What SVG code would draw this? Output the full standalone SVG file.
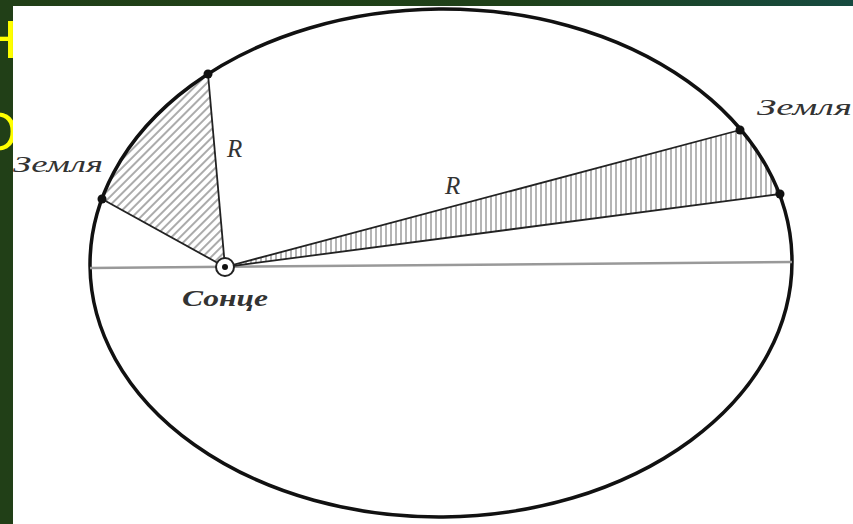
<svg xmlns="http://www.w3.org/2000/svg" width="853" height="524" viewBox="0 0 853 524">
<defs>
<linearGradient id="bg" x1="0" y1="0" x2="1" y2="0">
<stop offset="0" stop-color="#213f17"/>
<stop offset="0.6" stop-color="#1f4119"/>
<stop offset="1" stop-color="#164a40"/>
</linearGradient>
<pattern id="diag" width="6" height="6" patternUnits="userSpaceOnUse" patternTransform="rotate(45)">
<line x1="1" y1="0" x2="1" y2="6" stroke="#666" stroke-width="1.1"/>
</pattern>
<pattern id="vert" width="5" height="10" patternUnits="userSpaceOnUse">
<line x1="1" y1="0" x2="1" y2="10" stroke="#777" stroke-width="1.1"/>
</pattern>
<style>
.yel{font-family:"Liberation Sans",Arial,sans-serif;font-size:53px;fill:#ffff00}
.lbl{font-family:"Liberation Serif","DejaVu Serif",serif;font-style:italic;fill:#333}
.rad{stroke:#222;stroke-width:1.8;fill:none}
.dot{fill:#111}
</style>
</defs>
<rect x="0" y="0" width="853" height="524" fill="url(#bg)"/>
<text class="yel" x="-21" y="58">Н</text>
<text class="yel" x="-23" y="150">О</text>
<rect x="13" y="6" width="840" height="518" fill="#ffffff"/>
<g id="sectors">
<path d="M225 267 L102 199 A351 254 -0.49 0 1 208 74 Z" fill="url(#diag)"/>
<path d="M225 267 L740 130 A351 254 -0.49 0 1 780 194 Z" fill="url(#vert)"/>
</g>
<g id="orbit">
<ellipse cx="441" cy="263" rx="351" ry="254" transform="rotate(-0.49 441 263)" fill="none" stroke="#111" stroke-width="3.5"/>
</g>
<g id="connectors">
<line x1="90" y1="268" x2="792" y2="262" stroke="#999" stroke-width="2.5"/>
<line class="rad" x1="225" y1="267" x2="102" y2="199"/>
<line class="rad" x1="225" y1="267" x2="208" y2="74"/>
<line class="rad" x1="225" y1="267" x2="740" y2="130"/>
<line class="rad" x1="225" y1="267" x2="780" y2="194"/>
</g>
<g id="sun">
<circle cx="225" cy="267" r="9" fill="#fff" stroke="#222" stroke-width="2"/>
<circle cx="225" cy="267" r="3" fill="#111"/>
<text class="lbl" x="182" y="306" font-size="24" font-weight="bold" textLength="86" lengthAdjust="spacingAndGlyphs">Сонце</text>
</g>
<g id="earth-left">
<circle class="dot" cx="102" cy="199" r="4.5"/>
<circle class="dot" cx="208" cy="74" r="4.5"/>
<text class="lbl" x="13" y="172" font-size="24" textLength="90" lengthAdjust="spacingAndGlyphs">Земля</text>
</g>
<g id="earth-right">
<circle class="dot" cx="740" cy="130" r="4.5"/>
<circle class="dot" cx="780" cy="194" r="4.5"/>
<text class="lbl" x="757" y="115" font-size="24" textLength="95" lengthAdjust="spacingAndGlyphs">Земля</text>
</g>
<g id="labels">
<text class="lbl" x="227" y="157" font-size="25">R</text>
<text class="lbl" x="445" y="194" font-size="25">R</text>
</g>
</svg>
